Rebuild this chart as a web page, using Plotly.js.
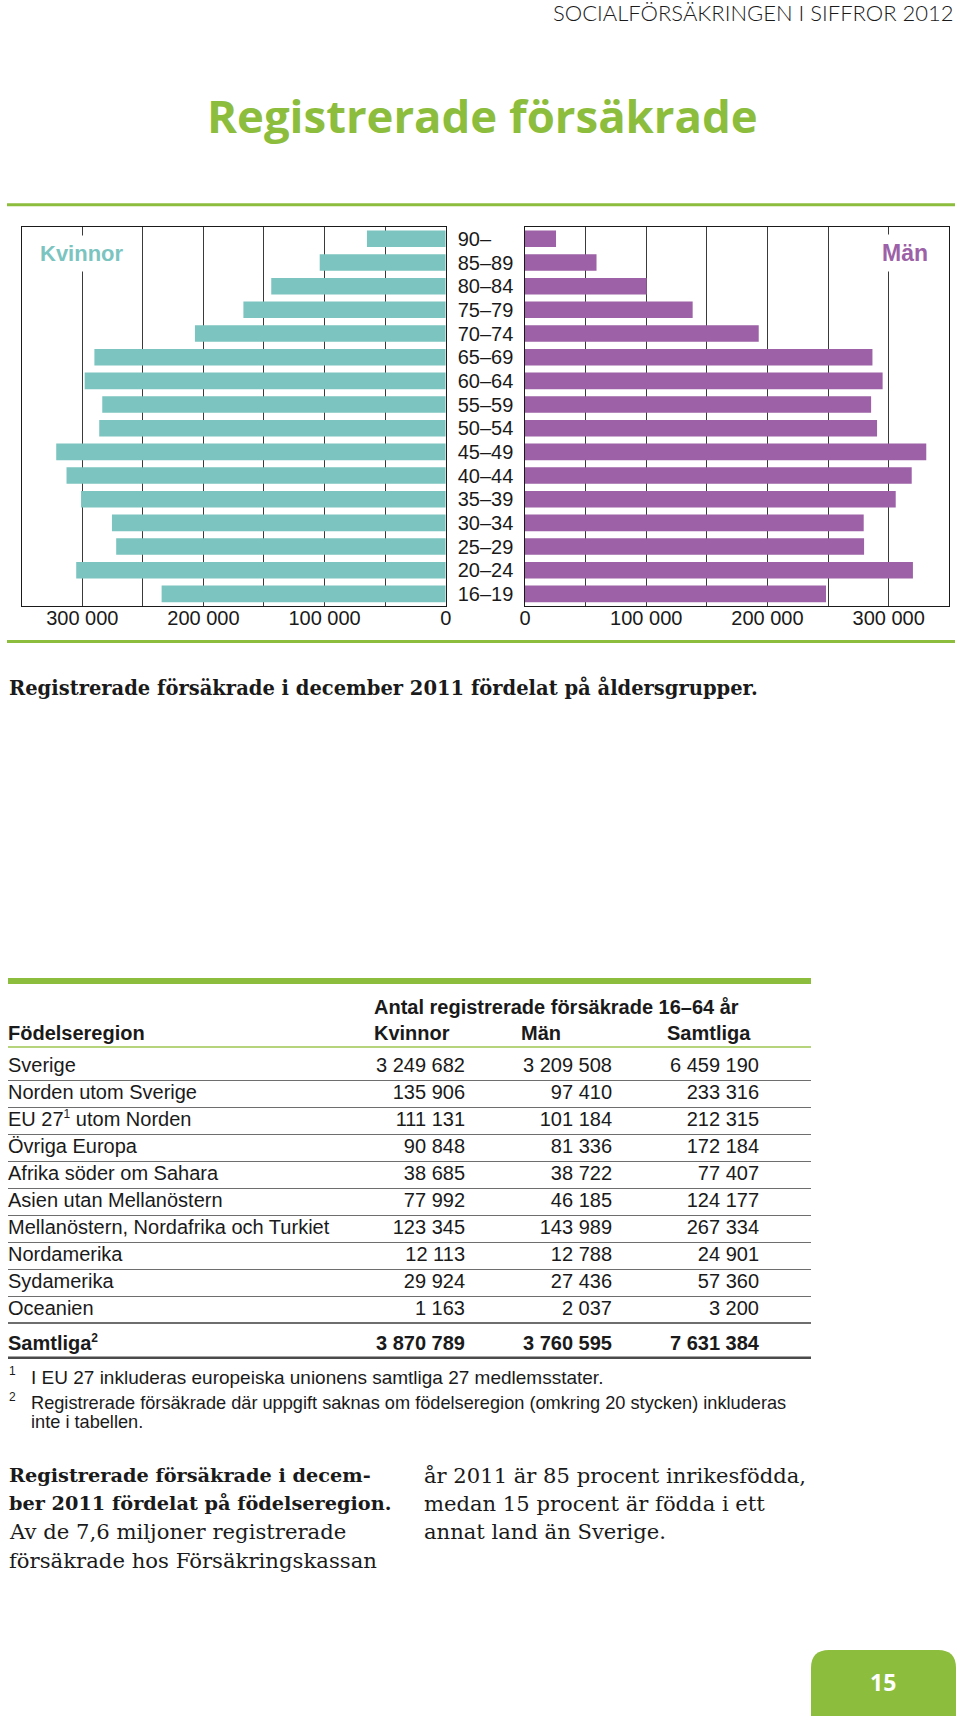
<!DOCTYPE html>
<html>
<head>
<meta charset="utf-8">
<script src="https://cdn.plot.ly/plotly-3.0.1.min.js"></script>
<style>
  html, body { margin: 0; padding: 0; background: #ffffff; }
  #page { width: 960px; height: 1716px; }
</style>
</head>
<body>
<div id="page"></div>
<script>
// ---------------- DATA ----------------
const ageGroups = ["90–", "85–89", "80–84", "75–79", "70–74", "65–69", "60–64", "55–59",
                   "50–54", "45–49", "40–44", "35–39", "30–34", "25–29", "20–24", "16–19"];
const womenValues = [65000, 104000, 144000, 167000, 207000, 290000, 298000, 283500,
                     286000, 321500, 313000, 301000, 275500, 272000, 305000, 234500];
const menValues = [25600, 59000, 100400, 138300, 192800, 286600, 295000, 285500,
                   290400, 331000, 319000, 305800, 279400, 279700, 320000, 248300];
const axisTickVals = [0, 100000, 200000, 300000];
const axisTickText = ["0", "100\u00a0000", "200\u00a0000", "300\u00a0000"];

const SUP = n => "<sup><span style=\"font-size:12px\">" + n + "</span></sup>";
const regions = ["Sverige", "Norden utom Sverige", "EU 27" + SUP(1) + " utom Norden", "Övriga Europa",
                 "Afrika söder om Sahara", "Asien utan Mellanöstern",
                 "Mellanöstern, Nordafrika och Turkiet", "Nordamerika", "Sydamerika", "Oceanien"];
const kvinnor  = [3249682, 135906, 111131, 90848, 38685, 77992, 123345, 12113, 29924, 1163];
const man      = [3209508, 97410, 101184, 81336, 38722, 46185, 143989, 12788, 27436, 2037];
const samtliga = [6459190, 233316, 212315, 172184, 77407, 124177, 267334, 24901, 57360, 3200];
const totalLabel = "Samtliga" + SUP(2);
const totalKvinnor = 3870789;
const totalMan = 3760595;
const totalSamtliga = 7631384;

// ---------------- HELPERS ----------------
const W = 960, H = 1716;
const px = v => v / W;
const py = v => 1 - v / H;
const fmt = n => String(n).replace(/\B(?=(\d{3})+(?!\d))/g, "\u00a0");

const GREEN = "#8dbd3c";
const TEAL = "#7cc4bf";
const PURPLE = "#9c61a6";
const INK = "#1a1a1a";
const SANS = "Liberation Sans, Arial, sans-serif";
const SERIF = "DejaVu Serif, serif";

// table geometry (layout only)
const COL = { region: 8, kv: 465, man: 612, tot: 759 };
const rowPitch = 26.96, firstRowY = 1067, tableTop = 1050, tableBottom = 1365;
const yTopVal = (tableTop - firstRowY) / rowPitch;
const yBotVal = (tableBottom - firstRowY) / rowPitch;
const totalRowIndex = regions.length + 0.31;

// ---------------- TRACES ----------------
const traces = [];
traces.push({
  type: "bar", orientation: "h", x: womenValues, y: ageGroups,
  xaxis: "x", yaxis: "y", marker: { color: TEAL, line: { width: 0 } }, hoverinfo: "skip"
});
traces.push({
  type: "bar", orientation: "h", x: menValues, y: ageGroups,
  xaxis: "x2", yaxis: "y2", marker: { color: PURPLE, line: { width: 0 } }, hoverinfo: "skip"
});

const rowIdx = regions.map((_, i) => i);
const tableFont = { family: SANS, size: 20, color: INK };
traces.push({
  type: "scatter", mode: "text", xaxis: "x3", yaxis: "y3", hoverinfo: "skip",
  x: regions.map(() => COL.region), y: rowIdx, text: regions,
  textposition: "middle right", textfont: tableFont, cliponaxis: false
});
[[kvinnor, COL.kv], [man, COL.man], [samtliga, COL.tot]].forEach(([arr, cx]) => {
  traces.push({
    type: "scatter", mode: "text", xaxis: "x3", yaxis: "y3", hoverinfo: "skip",
    x: arr.map(() => cx), y: rowIdx, text: arr.map(fmt),
    textposition: "middle left", textfont: tableFont, cliponaxis: false
  });
});
traces.push({
  type: "scatter", mode: "text", xaxis: "x3", yaxis: "y3", hoverinfo: "skip",
  x: [COL.region, COL.kv, COL.man, COL.tot],
  y: [totalRowIndex, totalRowIndex, totalRowIndex, totalRowIndex],
  text: ["<b>" + totalLabel + "</b>", "<b>" + fmt(totalKvinnor) + "</b>",
         "<b>" + fmt(totalMan) + "</b>", "<b>" + fmt(totalSamtliga) + "</b>"],
  textposition: ["middle right", "middle left", "middle left", "middle left"],
  textfont: tableFont, cliponaxis: false
});

// ---------------- LAYOUT ----------------
const chartTop = 227, chartBottom = 605.7;
const gridColor = "#3a3a3a";
const xCommon = {
  tickmode: "array", tickvals: axisTickVals, ticktext: axisTickText,
  showgrid: true, gridcolor: gridColor, gridwidth: 1,
  minor: { tickmode: "linear", tick0: 0, dtick: 50000, showgrid: true,
           gridcolor: gridColor, gridwidth: 1, ticks: "" },
  showline: true, mirror: true, linecolor: INK, linewidth: 1,
  zeroline: false, ticks: "", ticklen: 0, ticklabelstandoff: -6,
  tickfont: { family: SANS, size: 20, color: INK }, fixedrange: true
};
const yCommon = {
  type: "category", categoryorder: "array", categoryarray: ageGroups,
  autorange: "reversed", showgrid: false, zeroline: false,
  showline: true, mirror: true, linecolor: INK, linewidth: 1,
  domain: [py(chartBottom), py(chartTop)], fixedrange: true
};

function ann(text, x, y, opts) {
  return Object.assign({
    text: text, x: px(x), y: py(y), xref: "paper", yref: "paper",
    showarrow: false, xanchor: "left", yanchor: "middle", align: "left"
  }, opts);
}
const serif = (size, weight) => ({ family: SERIF, size: size, weight: weight || 400, color: INK });
const sans = (size, weight) => ({ family: SANS, size: size, weight: weight || 400, color: INK });

const annotations = [
  ann("SOCIALFÖRSÄKRINGEN I SIFFROR 2012", 956, 13,
      { xanchor: "right", font: { family: "Lato, sans-serif", size: 22, weight: 300, color: INK } }),
  ann("Registrerade försäkrade", 482.5, 115.5,
      { xanchor: "center", font: { family: "Open Sans, sans-serif", size: 45.5, weight: 700, color: GREEN } }),
  ann("Kvinnor", 34, 253.5, { bgcolor: "#ffffff", borderpad: 5,
      font: { family: SANS, size: 22, weight: 700, color: TEAL } }),
  ann("Män", 934, 253.5, { xanchor: "right", bgcolor: "#ffffff", borderpad: 5,
      font: { family: SANS, size: 23, weight: 700, color: PURPLE } }),
  ann("Registrerade försäkrade i december 2011 fördelat på åldersgrupper.", 7, 688,
      { font: serif(19.5, 700) }),
  ann("Antal registrerade försäkrade 16–64 år", 372, 1007, { font: sans(20, 700) }),
  ann("Födelseregion", 6, 1032.5, { font: sans(20, 700) }),
  ann("Kvinnor", 372, 1032.5, { font: sans(20, 700) }),
  ann("Män", 519, 1032.5, { font: sans(20, 700) }),
  ann("Samtliga", 665, 1032.5, { font: sans(20, 700) }),
  ann("1", 7, 1371, { font: sans(12) }),
  ann("I EU 27 inkluderas europeiska unionens samtliga 27 medlemsstater.", 29, 1377, { font: sans(19) }),
  ann("2", 7, 1397, { font: sans(12) }),
  ann("Registrerade försäkrade där uppgift saknas om födelseregion (omkring 20 stycken) inkluderas", 29, 1403,
      { font: sans(18.2) }),
  ann("inte i tabellen.", 29, 1421.5, { font: sans(18.2) }),
  ann("<b>Registrerade försäkrade i decem-</b>", 7, 1475, { font: serif(19.3) }),
  ann("<b>ber 2011 fördelat på födelseregion.</b>", 7, 1503, { font: serif(19.3) }),
  ann("Av de 7,6 miljoner registrerade", 7, 1531.5, { font: serif(21.2) }),
  ann("försäkrade hos Försäkringskassan", 7, 1560, { font: serif(21.2) }),
  ann("år 2011 är 85 procent inrikesfödda,", 422, 1475, { font: serif(21.1) }),
  ann("medan 15 procent är födda i ett", 422, 1503, { font: serif(21.1) }),
  ann("annat land än Sverige.", 422, 1531.5, { font: serif(21.1) }),
  ann("15", 883, 1682, { xanchor: "center", font: { family: "Open Sans, sans-serif", size: 23, weight: 700, color: "#ffffff" } })
];

function hline(y, x0, x1, color, width) {
  return { type: "line", xref: "paper", yref: "paper", x0: px(x0), x1: px(x1), y0: py(y), y1: py(y),
           line: { color: color, width: width } };
}
const bx0 = 811, bx1 = 956, by0 = 1650, by1 = 1716, r = 18;
const boxPath = "M " + px(bx0) + "," + py(by1) +
  " L " + px(bx0) + "," + py(by0 + r) +
  " Q " + px(bx0) + "," + py(by0) + " " + px(bx0 + r) + "," + py(by0) +
  " L " + px(bx1 - r) + "," + py(by0) +
  " Q " + px(bx1) + "," + py(by0) + " " + px(bx1) + "," + py(by0 + r) +
  " L " + px(bx1) + "," + py(by1) + " Z";

const shapes = [
  hline(204.7, 7, 955, GREEN, 3),
  hline(641.4, 7, 955, GREEN, 3),
  hline(981, 8, 811, GREEN, 6),
  hline(1047, 8, 811, "#9cc650", 1.5),
  hline(1357.7, 8, 811, "#4a4a4a", 2.5),
  { type: "path", xref: "paper", yref: "paper", path: boxPath,
    fillcolor: GREEN, line: { width: 0 } }
];

const layout = {
  width: W, height: H,
  margin: { l: 0, r: 0, t: 0, b: 0, pad: 0 },
  paper_bgcolor: "#ffffff", plot_bgcolor: "#ffffff",
  showlegend: false, bargap: 0.3,
  font: { family: SANS, color: INK },
  xaxis: Object.assign({}, xCommon, { domain: [px(21.7), px(445.7)], range: [350000, 0], anchor: "y" }),
  yaxis: Object.assign({}, yCommon, {
    anchor: "x", side: "right", showticklabels: true, ticks: "", ticklen: 0, ticklabelstandoff: 7,
    tickmode: "array", tickvals: ageGroups, ticktext: ageGroups,
    tickfont: { family: SANS, size: 20, color: INK }
  }),
  xaxis2: Object.assign({}, xCommon, { domain: [px(525), px(949.3)], range: [0, 350000], anchor: "y2" }),
  yaxis2: Object.assign({}, yCommon, { anchor: "x2", showticklabels: false, ticks: "" }),
  xaxis3: { domain: [px(COL.region), px(811)], range: [COL.region, 811], anchor: "y3",
            visible: false, fixedrange: true },
  yaxis3: { domain: [py(tableBottom), py(tableTop)], range: [yBotVal, yTopVal], anchor: "x3",
            tickmode: "array", tickvals: regions.map((_, i) => i + 0.5),
            showgrid: true, gridcolor: "#6e6e6e", gridwidth: 1.3,
            showticklabels: false, ticks: "", zeroline: false, showline: false, fixedrange: true },
  annotations: annotations,
  shapes: shapes
};

Plotly.newPlot("page", traces, layout, { staticPlot: true, displayModeBar: false });
</script>
</body>
</html>
